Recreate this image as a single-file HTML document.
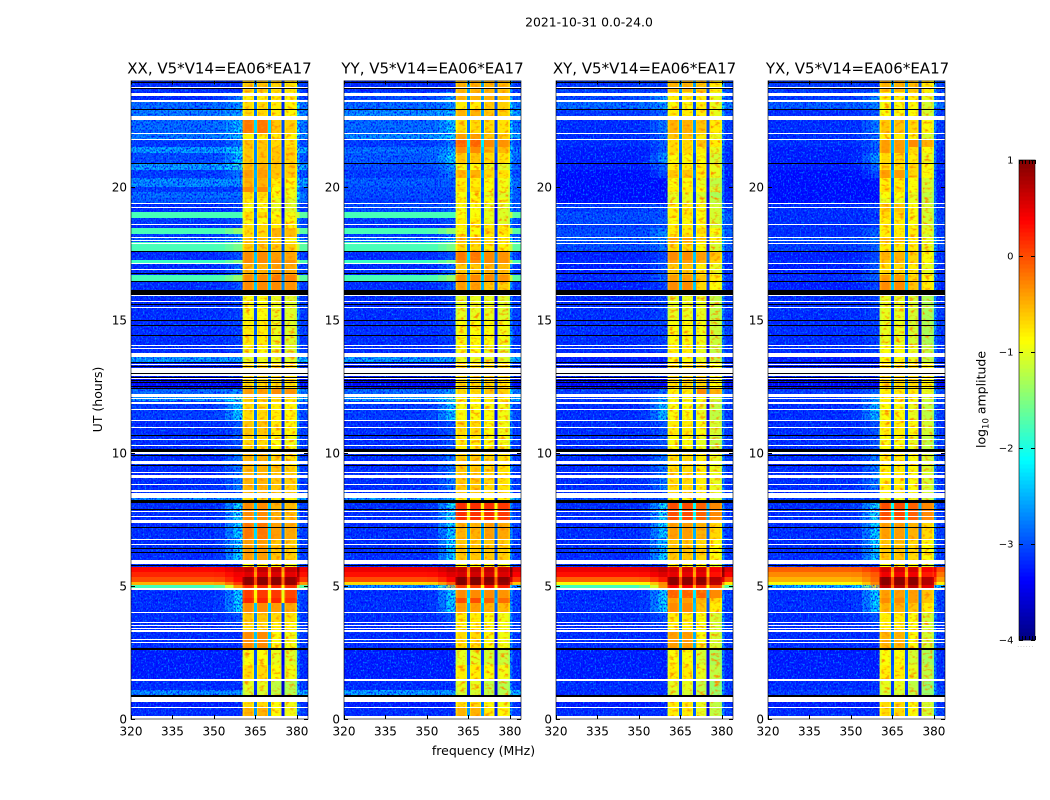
<!DOCTYPE html>
<html lang="en">
<head>
<meta charset="utf-8">
<title>2021-10-31 dynamic spectra</title>
<style>
html,body{margin:0;padding:0;background:#fff;}
svg{display:block;font-family:"DejaVu Sans","Liberation Sans",sans-serif;fill:#000;}
</style>
</head>
<body>
<svg id="figure" xmlns="http://www.w3.org/2000/svg" width="1050" height="800" viewBox="0 0 1050 800">
  <defs>
    <filter id="speckle-light" x="0" y="0" width="1" height="1" color-interpolation-filters="sRGB">
      <feTurbulence type="fractalNoise" baseFrequency="0.6 0.5" numOctaves="2" seed="4"/>
      <feColorMatrix values="0 0 0 0 0  0 0 0 0 .62  0 0 0 0 1  2.6 0 0 0 -1.3"/>
    </filter>
    <filter id="speckle-dark" x="0" y="0" width="1" height="1" color-interpolation-filters="sRGB">
      <feTurbulence type="fractalNoise" baseFrequency="0.6 0.5" numOctaves="2" seed="11"/>
      <feColorMatrix values="0 0 0 0 0  0 0 0 0 0  0 0 0 0 1  2.8 0 0 0 -1.1"/>
    </filter>
    <filter id="speckle-warm" x="0" y="0" width="1" height="1" color-interpolation-filters="sRGB">
      <feTurbulence type="fractalNoise" baseFrequency="0.2 0.32" numOctaves="2" seed="7"/>
      <feColorMatrix values="0 0 0 0 1  0 0 0 0 .55  0 0 0 0 0  3.5 0 0 0 -1.75"/>
    </filter>
  </defs>
  <text x="589" y="26.5" font-size="12.4" text-anchor="middle">2021-10-31 0.0-24.0</text>
  <text x="483.5" y="755" font-size="12.5" text-anchor="middle">frequency (MHz)</text>
  <text transform="translate(102,399.5) rotate(-90)" font-size="12.5" text-anchor="middle">UT (hours)</text>
  <text transform="translate(985.5,399.5) rotate(-90)" font-size="12.5" text-anchor="middle">log<tspan font-size="8.5" dy="3">10</tspan><tspan dy="-3"> amplitude</tspan></text>
  <g id="panels"></g>
  <g id="colorbar"></g>
</svg>
<script>
// ---- Chart data ----
const panelTitles = ["XX, V5*V14=EA06*EA17", "YY, V5*V14=EA06*EA17", "XY, V5*V14=EA06*EA17", "YX, V5*V14=EA06*EA17"];
const xTickValues = [320, 335, 350, 365, 380];
const yTickValues = [0, 5, 10, 15, 20];
const colorbarTicks = [1, 0, -1, -2, -3, -4];

// Top edge (UT hours) of each time segment; the last segment ends at 0.
const rowTops = [24.0,23.57,23.27,22.89,22.67,22.52,22.03,21.77,21.50,21.28,
  20.90,20.64,20.34,20.0,19.81,19.59,19.36,19.06,18.83,18.57,
  18.46,18.23,18.08,17.93,17.59,17.26,17.11,16.69,16.43,16.13,
  15.94,15.0,14.06,13.76,13.61,13.42,12.82,12.44,12.22,12.10,
  11.95,11.24,10.68,10.15,9.55,8.6,8.31,8.12,7.48,7.37,
  6.73,5.98,5.83,5.71,5.53,5.34,5.15,5.04,4.89,4.55,
  4.36,4.02,3.61,3.31,2.67,2.03,1.47,1.09,0.90,0.68,
  0.41,0.11];

// Frequency channels (MHz edges), subband index: -1 below band, -2 above band.
const freqEdges = [320,330,340,350,354,357,360.4,361,364,364.5,365.5,366,369.1,369.6,370.6,371,374,374.5,375.5,376,379.4,380,381,384];
const colSubband = [-1,-1,-1,-1,-1,-1,0,0,0,0,0,1,1,1,1,2,2,2,2,3,3,-2,-2];
const colRole = ["low","low","low","low","low","low","edge","sub","edge","notch","edge","sub","edge","notch","edge","sub","edge","notch","edge","sub","edge","tail","tail"];
const colLeakWeight = [0,0,0,0.1,0.6,1.2,0,0,0,0,0,0,0,0,0,0,0,0,0,0,0,0,0];
const colTailLift = [0,0,0,0,0,0,0,0,0,0,0,0,0,0,0,0,0,0,0,0,0,0.6,0.1];
const notchDepth = [2.1, 2.1, 2.4];

// Band-edge leakage of each time segment.
const rowLeak = [0,.4,.2,.2,.2,.4,.3,.3,.3,.6,
  .4,.3,0,0,0,0,.1,0,.1,.1,
  .3,.3,.3,.2,.2,.3,.3,.3,.2,0,
  .1,.1,.1,.1,0,0,0,.2,.2,.5,
  .7,.2,.2,.4,.4,0,0,.9,.9,.8,
  .8,0,0,.2,.2,.3,.5,1.2,.8,.8,
  .8,.2,.1,0,0,0,0,0,0,0,
  0,0];

// log10 amplitude per segment: low = below band, a = subbands 1-2, b = subbands 3-4.
const xxLow = [-3.0,-3.0,-2.6,-2.5,-2.5,-2.6,-2.5,-2.9,-2.3,-2.8,
  -2.3,-2.9,-2.4,-2.9,-2.6,-2.7,-3.0,-1.78,-2.9,-3.0,
  -1.78,-2.9,-2.7,-1.78,-3.0,-1.85,-3.0,-1.78,-3.0,-3.4,
  -3.0,-3.0,-3.0,-3.0,-2.3,-3.1,-3.3,-2.6,-2.6,-2.3,
  -2.9,-3.0,-3.0,-3.0,-3.0,-3.0,-2.4,-3.0,-3.0,-3.0,
  -3.0,-3.0,-3.0,.35,.2,0,-.5,-1.8,-3.0,-3.0,
  -3.0,-3.0,-3.0,-3.0,-3.1,-3.1,-3.0,-2.4,-2.4,-3.1,
  -3.0,-3.0];
const xxBandA = [-.6,-.8,-.7,-.7,-.7,-.2,-.8,-.6,-.6,-.6,
  -.5,-.4,-.5,-.3,-.7,-.8,-.9,-.7,-.9,-.7,
  -.7,-.7,-.6,-.6,-.3,-.3,-.5,-.3,-.3,-1.4,
  -.9,-.8,-.9,-.9,-1,-.7,-.7,-.4,-.4,-.6,
  -.7,-.6,-.7,-.5,-.5,-.5,-.7,-.3,-.3,-.2,
  -.4,-.4,-.9,.7,.55,.95,.95,.2,.1,.2,
  -.3,-.6,-.7,-.3,-.9,-.7,-1,-1.1,-1.1,-.7,
  -.5,-.5];
const xxBandB = [-.7,-.8,-.8,-.8,-.8,-.6,-.8,-.7,-.6,-.6,
  -.6,-.6,-.8,-.9,-.9,-1,-1,-.9,-.8,-.8,
  -.5,-.5,-.8,-.6,-.4,-.3,-.4,-.2,-.3,-1.4,
  -1,-1,-1,-1,-1,-.7,-.7,-.3,-.3,-.7,
  -.8,-.8,-.9,-.7,-.6,-.6,-.8,-.5,-.5,-.4,
  -.6,-.6,-.9,.7,.55,.95,.95,.2,.1,.2,
  -.4,-.7,-.8,-.9,-1,-.9,-1.2,-1.2,-1.2,-.9,
  -.9,-.9];

const yyLow = [-3.0,-2.8,-2.6,-2.4,-2.4,-2.6,-2.4,-2.9,-2.6,-2.7,
  -2.8,-2.9,-2.7,-2.8,-2.8,-2.9,-2.8,-1.78,-2.9,-3.0,
  -1.78,-2.9,-2.6,-1.78,-3.0,-1.85,-3.0,-1.78,-3.0,-3.4,
  -3.0,-3.0,-3.0,-3.0,-2.3,-3.1,-3.3,-2.6,-2.6,-2.3,
  -2.9,-3.0,-3.0,-3.0,-3.0,-3.0,-2.3,-3.0,-3.0,-3.0,
  -3.0,-3.0,-3.0,.45,.3,0,-.7,-2.4,-3.0,-3.0,
  -3.0,-3.0,-3.0,-3.0,-3.1,-3.1,-3.0,-2.3,-2.3,-3.1,
  -3.0,-3.0];
const yyBandA = [-.5,-.5,-.8,-.5,-.5,-.7,-.4,-.1,-.3,-.6,
  -.9,-.5,-.8,-.7,-.9,-.8,-.9,-.9,-.8,-.8,
  -.9,-.8,-.5,-.7,-.2,-.3,-.6,-.3,-.4,-1.4,
  -1,-.9,-.9,-.9,-1,-.7,-.7,-.7,-.7,-.8,
  -.9,-.7,-.8,-.6,-.6,-.6,-.8,.15,.15,-.5,
  -.6,-.6,-.9,.7,.6,1,1,.1,-.3,0,
  -.4,-.8,-.8,-.7,-1,-.8,-1,-1.1,-1.1,-.7,
  -.5,-.5];
const yyBandB = [-.5,-.5,-.6,-.6,-.6,-.7,-.6,-.3,-.5,-.7,
  -1,-.7,-.9,-.9,-1,-.9,-1,-1,-1,-.8,
  -.7,-.8,-.7,-.8,-.3,-.3,-.5,-.3,-.6,-1.4,
  -1,-.9,-1,-1,-1,-.7,-.7,-.6,-.6,-.8,
  -.9,-.9,-.9,-.7,-.7,-.7,-.8,.15,.15,-.4,
  -.6,-.6,-.9,.7,.6,1,.95,.3,-.3,-.1,
  -.5,-.9,-.9,-.9,-1.1,-.9,-1.2,-1.2,-1.2,-.9,
  -.8,-.8];

const xyLow = [-2.9,-2.8,-2.6,-2.9,-2.9,-3.0,-3.0,-3.0,-3.1,-3.1,
  -3.1,-3.2,-3.2,-3.2,-3.2,-3.2,-2.9,-2.8,-2.8,-2.9,
  -2.8,-2.8,-2.7,-2.8,-3.1,-3.0,-3.1,-3.0,-3.1,-3.4,
  -3.0,-3.0,-3.0,-3.0,-3.1,-3.1,-3.3,-2.9,-2.9,-2.9,
  -3.0,-3.0,-3.0,-3.0,-3.0,-3.0,-2.8,-3.0,-3.0,-3.0,
  -3.0,-3.0,-3.0,.45,.3,-.1,-.9,-1.8,-3.0,-3.0,
  -3.0,-3.0,-3.0,-3.0,-3.1,-3.1,-3.0,-3.0,-3.0,-3.1,
  -3.0,-3.0];
const xyBandA = [-.5,-.8,-.9,-.8,-.8,-.5,-.6,-.7,-.7,-.9,
  -.8,-.6,-.9,-.8,-1,-1,-.8,-.8,-.9,-.8,
  -.8,-.7,-.4,-.7,-.3,-.4,-.6,-.4,-.3,-1.4,
  -1,-.9,-.8,-.8,-.9,-.7,-.7,-.8,-.8,-.9,
  -.9,-.8,-.9,-.7,-.7,-.7,-.9,0,0,-.4,
  -.6,-.6,-.9,.6,.5,.95,.95,.4,-.1,-.4,
  -.3,-.8,-.8,-.4,-.9,-.8,-1,-1.1,-1.1,-.8,
  -.8,-.8];
const xyBandB = [-.6,-.8,-.8,-.8,-.8,-.6,-.8,-.6,-.8,-.9,
  -.8,-.8,-1,-.9,-1.1,-1,-.9,-.9,-.9,-.9,
  -.7,-.8,-.6,-.9,-.4,-.5,-.8,-.6,-.7,-1.4,
  -1,-.95,-1,-1,-1,-.7,-.7,-.3,-.3,-.9,
  -1,-.9,-1,-.8,-.8,-.8,-.9,-.1,-.1,-.5,
  -.7,-.7,-.9,.6,.5,.95,.9,.2,-.1,-.5,
  -.6,-.9,-.9,-.9,-1.1,-1,-1.2,-1.2,-1.2,-1,
  -1,-1];

const yxLow = [-2.9,-2.9,-2.7,-3.0,-3.0,-3.0,-3.0,-3.0,-3.1,-3.1,
  -3.1,-3.2,-3.2,-3.2,-3.2,-3.2,-3.0,-3.0,-3.0,-3.0,
  -3.0,-3.0,-2.8,-2.9,-3.1,-3.0,-3.1,-3.0,-3.1,-3.4,
  -3.0,-3.0,-3.0,-3.0,-3.1,-3.1,-3.3,-2.9,-2.9,-2.9,
  -3.0,-3.0,-3.0,-3.0,-3.0,-3.0,-2.9,-3.0,-3.0,-3.0,
  -3.0,-3.0,-3.0,-.1,-.3,-.5,-.9,-2.2,-3.0,-3.0,
  -3.0,-3.0,-3.0,-3.0,-3.1,-3.1,-3.0,-2.9,-2.9,-3.1,
  -3.0,-3.0];
const yxBandA = [-.5,-.8,-.9,-.9,-.9,-.6,-.8,-.4,-.4,-.7,
  -.7,-.4,-.8,-.7,-.9,-1,-.6,-.7,-.8,-.8,
  -.8,-.8,-.5,-.8,-.5,-.6,-.7,-.4,-.3,-1.4,
  -1,-1,-.9,-.9,-.9,-.7,-.7,-.8,-.8,-.8,
  -.9,-.8,-.9,-.8,-.8,-.8,-1,0,0,-.4,
  -.6,-.6,-.9,.6,.45,.95,.95,.7,-.4,-.3,
  -.5,-.8,-.8,-.5,-.9,-.8,-1,-1.1,-1.1,-.7,
  -.7,-.7];
const yxBandB = [-.6,-.8,-.9,-.9,-.9,-.7,-.9,-.3,-.7,-.8,
  -.7,-.7,-.9,-.9,-1,-1,-.9,-.9,-.9,-.9,
  -.8,-.9,-.8,-.8,-.7,-.7,-.8,-.7,-.6,-1.4,
  -1.1,-1.1,-1,-1,-1,-.7,-.7,-.8,-.8,-.9,
  -1,-.9,-1,-.9,-.9,-.9,-1,-.1,-.1,-.5,
  -.7,-.7,-.9,.6,.45,.95,.95,.7,-.4,-.4,
  -.6,-.9,-.9,-.9,-1.1,-1,-1.2,-1.2,-1.2,-.9,
  -.9,-.9];

const panelLow = [xxLow, yyLow, xyLow, yxLow];
const panelBandA = [xxBandA, yyBandA, xyBandA, yxBandA];
const panelBandB = [xxBandB, yyBandB, xyBandB, yxBandB];
const panelSubOffset = [[0,0,0,-.05],[0,0,0,-.05],[0,0,0,-.2],[0,0,0,-.2]];

// Flagged (blank) and dropped (black) time intervals in UT hours: [top, bottom].
const whiteStripes = [[23.76,23.72],[23.54,23.48],[23.46,23.42],[23.27,23.21],[22.68,22.52],[22.03,21.99],[21.80,21.77],
  [19.40,19.35],[19.25,19.20],[18.61,18.56],[18.10,18.06],[18.0,17.97],[17.89,17.84],[17.14,17.09],[16.92,16.87],
  [15.94,15.89],[15.71,15.67],[15.49,15.44],[14.06,14.01],[13.95,13.9],[13.77,13.62],[13.35,13.31],
  [13.2,13.03],[12.97,12.89],[12.82,12.78],[12.22,12.12],[12.07,12.02],[11.9,11.84],[11.66,11.62],[11.24,11.19],
  [10.98,10.93],[10.53,10.48],[10.3,10.25],[10.02,9.94],[9.71,9.59],[9.29,9.24],[9.17,9.06],[8.83,8.78],[8.61,8.55],
  [8.48,8.31],[7.8,7.75],[7.63,7.58],[7.48,7.38],[6.77,6.72],[6.58,6.53],[5.98,5.83],[4.91,4.84],[4.02,3.97],
  [3.65,3.6],[3.53,3.48],[3.43,3.38],[3.33,3.25],[3.0,2.96],[2.9,2.85],[1.49,1.43],[0.84,0.67],[0.45,0.4],[0.11,0]];
const blackStripes = [[23.93,23.89],[23.72,23.68],[22.91,22.87],[20.90,20.86],[17.59,17.55],[16.76,16.72],[16.47,16.43],[16.13,15.96],
  [15.6,15.56],[14.99,14.95],[14.81,14.77],[14.45,14.41],[13.42,13.38],[13.26,13.22],[13.02,12.98],
  [12.87,12.83],[12.76,12.72],[12.65,12.61],[12.52,12.48],[12.44,12.4],[10.68,10.64],[10.15,10.04],[9.94,9.9],
  [9.56,9.52],[8.25,8.14],[7.91,7.87],[7.2,7.16],[6.42,6.38],[6.26,6.22],[5.77,5.72],[2.67,2.59],[0.92,0.83]];

// ---- Layout ----
const NS = "http://www.w3.org/2000/svg";
const panelLefts = [131, 344, 556, 768];
const axisWidth = 177;
const axisTop = 80.5, axisBottom = 719;
const freqMin = 320, freqMax = 384, hourMin = 0, hourMax = 24;
const vMin = -4, vMax = 1;
const quietThreshold = -2.2, quietShift = -0.14, edgeDrop = 0.15, hotNotchScale = 0.45;

function xScale(left, f) { return left + (f - freqMin) / (freqMax - freqMin) * axisWidth; }
function yScale(h) { return axisBottom - (h - hourMin) / (hourMax - hourMin) * (axisBottom - axisTop); }

function jet(v) {
  const t = Math.max(0, Math.min(1, (v - vMin) / (vMax - vMin)));
  const ramp = c => Math.max(0, Math.min(1, 1.5 - Math.abs(4 * t - c)));
  const r = Math.round(255 * ramp(3));
  const g = Math.round(255 * ramp(2));
  const b = Math.round(255 * ramp(1));
  return "rgb(" + r + "," + g + "," + b + ")";
}

function cellValue(p, r, c) {
  const role = colRole[c];
  const low = panelLow[p][r] + (panelLow[p][r] <= quietThreshold ? quietShift : 0);
  if (role === "low") return low + rowLeak[r] * colLeakWeight[c];
  if (role === "tail") return low + colTailLift[c];
  const sb = colSubband[c];
  const base = (sb < 2 ? panelBandA[p][r] : panelBandB[p][r]) + panelSubOffset[p][sb];
  if (role === "edge") return base - edgeDrop;
  if (role === "notch") return base - notchDepth[sb] * (base > 0 ? hotNotchScale : 1);
  return base;
}

function svgEl(tag, parent, attrs) {
  const e = document.createElementNS(NS, tag);
  for (const k in attrs) e.setAttribute(k, attrs[k]);
  parent.appendChild(e);
  return e;
}

const panelsRoot = document.getElementById("panels");

panelTitles.forEach(function (title, p) {
  const left = panelLefts[p];
  const right = left + axisWidth;
  const key = title.slice(0, 2).toLowerCase();

  const g = svgEl("g", panelsRoot, {});
  
  

  const heat = svgEl("g", g, { "shape-rendering": "crispEdges" });
  
  

  rowTops.forEach(function (top, r) {
    const bottom = r + 1 < rowTops.length ? rowTops[r + 1] : hourMin;
    for (let c = 0; c < colRole.length; c++) {
      const x0 = xScale(left, freqEdges[c]);
      const x1 = xScale(left, freqEdges[c + 1]);
      const cell = svgEl("rect", heat, {
        x: x0.toFixed(2), y: yScale(top).toFixed(2),
        width: (x1 - x0).toFixed(2), height: (yScale(bottom) - yScale(top)).toFixed(2),
        fill: jet(cellValue(p, r, c))
      });
      
      
    }
  });

  // Speckle texture on the quiet (blue) out-of-band rows only.
  const clipId = "quiet-" + key;
  const clip = svgEl("clipPath", g, { id: clipId });
  
  
  const warmClipId = "warm-" + key;
  const warmClip = svgEl("clipPath", g, { id: warmClipId });
  
  
  rowTops.forEach(function (top, r) {
    const bottom = r + 1 < rowTops.length ? rowTops[r + 1] : hourMin;
    if (panelLow[p][r] <= quietThreshold) {
      [[freqMin, 360.4], [380, freqMax]].forEach(function (span) {
        const clipRow = svgEl("rect", clip, {
          x: xScale(left, span[0]), y: yScale(top),
          width: xScale(left, span[1]) - xScale(left, span[0]), height: yScale(bottom) - yScale(top)
        });
        
        
      });
    }
    if (panelBandA[p][r] < 0) {
      colRole.forEach(function (role, c) {
        if (role !== "sub") return;
        const warmRow = svgEl("rect", warmClip, {
          x: xScale(left, freqEdges[c]), y: yScale(top),
          width: xScale(left, freqEdges[c + 1]) - xScale(left, freqEdges[c]), height: yScale(bottom) - yScale(top)
        });
        
        
      });
    }
  });
  const texture = svgEl("g", g, { "clip-path": "url(#" + clipId + ")" });
  
  
  ["speckle-dark", "speckle-light"].forEach(function (id) {
    const sp = svgEl("rect", texture, {
      x: left, y: axisTop, width: axisWidth, height: axisBottom - axisTop, filter: "url(#" + id + ")"
    });
    
    
  });
  const warmTexture = svgEl("g", g, { "clip-path": "url(#" + warmClipId + ")" });
  
  
  const warmRect = svgEl("rect", warmTexture, {
    x: left, y: axisTop, width: axisWidth, height: axisBottom - axisTop, filter: "url(#speckle-warm)"
  });
  
  

  const stripes = svgEl("g", g, { "shape-rendering": "crispEdges" });
  
  
  whiteStripes.forEach(function (s) {
    const st = svgEl("rect", stripes, {
      x: left, y: Math.round(yScale(s[0])), width: axisWidth,
      height: Math.max(1, Math.round(yScale(s[1]) - yScale(s[0]))), fill: "#fff"
    });
    
    
  });
  blackStripes.forEach(function (s) {
    const st = svgEl("rect", stripes, {
      x: left, y: Math.round(yScale(s[0])), width: axisWidth,
      height: Math.max(1, Math.round(yScale(s[1]) - yScale(s[0]))), fill: "#000"
    });
    
    
  });

  xTickValues.forEach(function (f) {
    const x = Math.round(xScale(left, f)) + 0.5;
    const tb = svgEl("line", g, { x1: x, x2: x, y1: axisBottom, y2: axisBottom - 4, stroke: "#000", "stroke-width": 1 });
    
    
    const tt = svgEl("line", g, { x1: x, x2: x, y1: axisTop, y2: axisTop + 4, stroke: "#000", "stroke-width": 1 });
    
    
    const lab = svgEl("text", g, { x: xScale(left, f), y: 735.5, "font-size": 12, "text-anchor": "middle" });
    
    
    lab.textContent = f;
  });

  yTickValues.forEach(function (h) {
    const y = Math.round(yScale(h)) + 0.5;
    const tl = svgEl("line", g, { x1: left, x2: left + 4, y1: y, y2: y, stroke: "#000", "stroke-width": 1 });
    
    
    const tr = svgEl("line", g, { x1: right, x2: right - 4, y1: y, y2: y, stroke: "#000", "stroke-width": 1 });
    
    
    const lab = svgEl("text", g, { x: left - 4, y: yScale(h) + 4.5, "font-size": 12, "text-anchor": "end" });
    
    
    lab.textContent = h;
  });

  const frame = svgEl("rect", g, {
    x: left, y: 81, width: axisWidth, height: axisBottom - 81, fill: "none", stroke: "#000", "stroke-width": 1, "stroke-opacity": 0.6
  });
  
  

  const ttl = svgEl("text", g, { x: left + axisWidth / 2 + (p === 3 ? 1 : 0), y: 73.5, "font-size": 15, "text-anchor": "middle" });
  
  
  ttl.textContent = title;
});

// ---- Colorbar ----
const cbRoot = document.getElementById("colorbar");
const cbLeft = 1019, cbRight = 1035, cbTop = 160, cbBottom = 640;
function cbY(v) { return cbBottom - (v - vMin) / (vMax - vMin) * (cbBottom - cbTop); }

const cbCells = svgEl("g", cbRoot, { "shape-rendering": "crispEdges" });


const cbSteps = 120;
for (let i = 0; i < cbSteps; i++) {
  const v0 = vMin + (vMax - vMin) * i / cbSteps;
  const v1 = vMin + (vMax - vMin) * (i + 1) / cbSteps;
  const seg = svgEl("rect", cbCells, {
    x: cbLeft, y: cbY(v1), width: cbRight - cbLeft, height: cbY(v0) - cbY(v1) + 0.5, fill: jet((v0 + v1) / 2)
  });
  
  
}

colorbarTicks.forEach(function (v) {
  const y = Math.round(cbY(v)) + 0.5;
  const l = svgEl("line", cbRoot, { x1: cbLeft, x2: cbLeft + 4, y1: y, y2: y, stroke: "#000" });
  
  
  const r = svgEl("line", cbRoot, { x1: cbRight, x2: cbRight - 4, y1: y, y2: y, stroke: "#000" });
  
  
  const lab = svgEl("text", cbRoot, { x: 1013.5, y: cbY(v) + 3.5, "font-size": 10, "text-anchor": "end" });
  
  
  lab.textContent = v < 0 ? "\u2212" + Math.abs(v) : String(v);
});

for (let i = 0; i <= 5; i++) {
  const x = Math.round(cbLeft + i * (cbRight - cbLeft) / 5) + 0.5;
  const tTop = svgEl("line", cbRoot, { x1: x, x2: x, y1: cbTop, y2: cbTop + 4, stroke: "#000" });
  
  
  const tBot = svgEl("line", cbRoot, { x1: x, x2: x, y1: cbBottom, y2: cbBottom - 4, stroke: "#000" });
  
  
}

const cbFrame = svgEl("rect", cbRoot, {
  x: cbLeft, y: cbTop, width: cbRight - cbLeft, height: cbBottom - cbTop, fill: "none", stroke: "#000", "stroke-width": 1, "stroke-opacity": 0.6
});



const cbDots = svgEl("text", cbRoot, { x: 1026, y: 647, "font-size": 5, "text-anchor": "middle", "letter-spacing": 1.3, fill: "#777" });


cbDots.textContent = "......";
</script>
</body>
</html>
